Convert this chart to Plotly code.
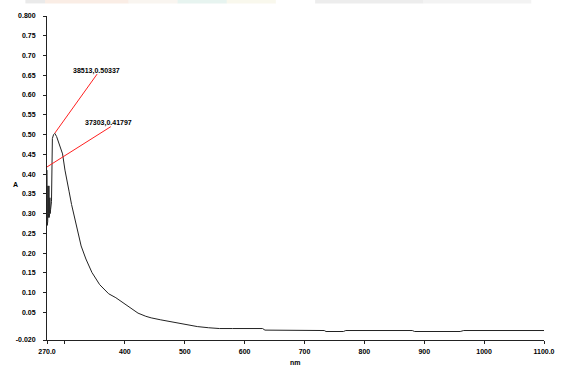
import plotly.graph_objects as go

# Spectrum (wavelength nm, absorbance A)
wavelength = [270.0, 270.4, 270.8, 271.2, 271.6, 272.0, 272.4, 272.8, 273.2, 273.6, 274.0, 274.4, 274.8, 275.3,
              276.0, 277.5, 278.0, 278.4, 279.0, 281.0, 283.0, 286.0, 290.0, 293.0, 296.0, 300.0, 303.0, 307.0,
              311.0, 315.0, 319.0, 324.0, 327.0, 335.0, 345.0, 358.0, 373.0, 385.0, 398.0, 410.0, 422.0, 435.0,
              444.0, 460.0, 475.0, 493.0, 510.0, 521.0, 540.0, 558.0, 580.0, 630.0, 634.0, 700.0, 733.0, 736.0,
              765.0, 769.0, 880.0, 884.0, 910.0, 914.0, 960.0, 966.0, 1100.0]
absorbance = [0.41, 0.27, 0.39, 0.28, 0.37, 0.29, 0.36, 0.30, 0.37, 0.29, 0.35, 0.30, 0.34, 0.30,
              0.31, 0.33, 0.42, 0.47, 0.49, 0.500, 0.503, 0.495, 0.478, 0.466, 0.451, 0.41, 0.39, 0.355,
              0.323, 0.297, 0.274, 0.235, 0.218, 0.185, 0.151, 0.120, 0.097, 0.087, 0.074, 0.061, 0.048, 0.040,
              0.036, 0.031, 0.027, 0.021, 0.017, 0.014, 0.011, 0.009, 0.009, 0.009, 0.005, 0.004, 0.004, 0.0015,
              0.0015, 0.004, 0.004, 0.0015, 0.0015, 0.003, 0.0015, 0.004, 0.004]

# Marked points and their labels
mark_x = [283.0, 270.0]
mark_y = [0.50337, 0.41797]
mark_text = ["38513,0.50337", "37303,0.41797"]
label_x = [352.0, 373.0]
label_y = [0.662, 0.530]
leader_x = [353.7, 376.6]
leader_y = [0.653, 0.520]

x_tickvals = [270, 300, 400, 500, 600, 700, 800, 900, 1000, 1100]
x_ticktext = ["270.0", "", "400", "500", "600", "700", "800", "900", "1000", "1100.0"]
y_tickvals = [-0.02, 0.05, 0.10, 0.15, 0.20, 0.25, 0.30, 0.35, 0.40, 0.45, 0.50, 0.55, 0.60, 0.65, 0.70, 0.75, 0.80]
y_ticktext = ["-0.020", "0.05", "0.10", "0.15", "0.20", "0.25", "0.30", "0.35", "0.40", "0.45", "0.50",
              "0.55", "0.60", "0.65", "0.70", "0.75", "0.800"]

W, H = 567, 367
ML, MR, MT, MB = 47, 14, 16, 17
PW, PH = W - ML - MR, H - MT - MB

tickfont = dict(family="Liberation Sans, Arial, sans-serif", size=7, color="#000", weight="bold")

fig = go.Figure()
fig.add_trace(go.Scatter(x=wavelength, y=absorbance, mode="lines",
                         line=dict(color="#222", width=1), showlegend=False, hoverinfo="skip"))

shapes = []
for i in range(len(mark_x)):
    shapes.append(dict(type="line", xref="x", yref="y", x0=mark_x[i], y0=mark_y[i],
                       x1=leader_x[i], y1=leader_y[i], line=dict(color="#ff2020", width=1), layer="above"))

# faint coloured strip along the top edge of the screenshot
strip = [(25, 45, "#d6d6d6"), (45, 130, "#f6dccb"), (130, 180, "#f3ebe2"), (180, 230, "#cfe9e1"),
         (230, 280, "#f4f1dc"), (320, 430, "#dcdcdc"), (430, 540, "#e8e8e8")]
for a, b, c in strip:
    shapes.append(dict(type="rect", xref="paper", yref="paper",
                       x0=(a - ML) / PW, x1=(b - ML) / PW,
                       y0=(H - MB - 3) / PH, y1=(H - MB) / PH + 0.01,
                       fillcolor=c, line=dict(width=0), layer="below", opacity=0.5))

annotations = []
for i in range(len(mark_x)):
    annotations.append(dict(x=label_x[i], y=label_y[i], xref="x", yref="y", text=mark_text[i],
                            showarrow=False, font=tickfont))
annotations.append(dict(x=(10 - ML) / PW, y=(H - MB - 190) / PH, xref="paper", yref="paper", text="A",
                        showarrow=False, font=tickfont))
annotations.append(dict(x=(300 - ML) / PW, y=0, xref="paper", yref="paper",
                        text="nm", showarrow=False, yanchor="top", yshift=-17, font=tickfont))

fig.update_layout(
    width=W, height=H,
    margin=dict(l=ML, r=MR, t=MT, b=MB),
    paper_bgcolor="white", plot_bgcolor="white",
    shapes=shapes, annotations=annotations,
    xaxis=dict(range=[270, 1100], tickvals=x_tickvals, ticktext=x_ticktext, showgrid=False, zeroline=False,
               showline=True, linecolor="#222", linewidth=1, ticks="outside", ticklen=3, tickcolor="#222",
               tickfont=tickfont, ticklabelstandoff=2),
    yaxis=dict(range=[-0.02, 0.80], tickvals=y_tickvals, ticktext=y_ticktext, showgrid=False, zeroline=False,
               showline=True, linecolor="#222", linewidth=1, ticks="outside", ticklen=3, tickcolor="#222",
               tickfont=tickfont, ticklabelstandoff=6),
)

fig.write_html("out.html")
